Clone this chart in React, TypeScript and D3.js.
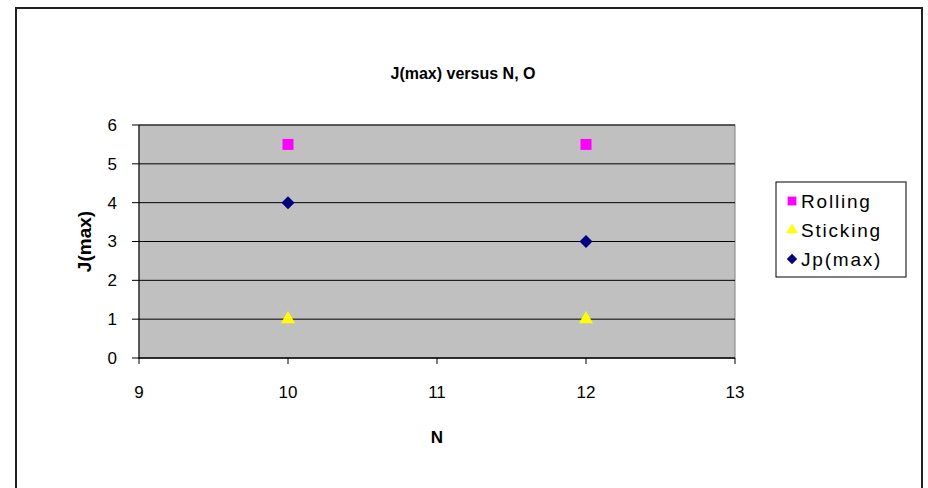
import React from 'react';
import * as d3 from 'd3';

// chart values
const nValues = [10, 12];
const rolling = [5.5, 5.5];
const sticking = [1, 1];
const jpMax = [4, 3];
const xTicks = [9, 10, 11, 12, 13];
const yTicks = [0, 1, 2, 3, 4, 5, 6];
const legendLabels = ['Rolling', 'Sticking', 'Jp(max)'];

const W = 928;
const H = 488;
const font = '"Liberation Sans", Arial, sans-serif';

// plot area
const left = 139, right = 735, top = 125, bottom = 358;

// diamond with equal width and height (excel style)
const diamondPath = (r: number) => {
  const p = d3.path();
  p.moveTo(0, -r); p.lineTo(r, 0); p.lineTo(0, r); p.lineTo(-r, 0); p.closePath();
  return p.toString();
};

export default function App() {
  const x = d3.scaleLinear().domain([9, 13]).range([left, right]);
  const y = d3.scaleLinear().domain([0, 6]).range([bottom, top]);

  const square = d3.symbol().type(d3.symbolSquare).size(121);
  const triangle = d3.symbol().type(d3.symbolTriangle).size(85);

  const series = [
    { name: legendLabels[0], values: rolling, path: square(), color: '#ff00ff' },
    { name: legendLabels[1], values: sticking, path: triangle(), color: '#ffff00' },
    { name: legendLabels[2], values: jpMax, path: diamondPath(6.5), color: '#000080' },
  ];

  const legendX = 776, legendY = 182;

  return (
    <svg width={W} height={H} style={{ position: 'absolute', left: 0, top: 0, background: '#fff' }}>
      {/* outer chart frame */}
      <rect x={16} y={8} width={906} height={500} fill="#fff" stroke="#222" strokeWidth={2} />

      <text x={463} y={73} dy="0.35em" textAnchor="middle" fontFamily={font} fontSize={16} fontWeight="bold">
        J(max) versus N, O
      </text>

      {/* plot area */}
      <rect x={left} y={top} width={right - left} height={bottom - top} fill="#c0c0c0" stroke="#808080" />

      {yTicks.map(t => (
        <g key={'y' + t}>
          <line x1={left} x2={right} y1={y(t)} y2={y(t)} stroke="#000" />
          <line x1={left - 7} x2={left} y1={y(t)} y2={y(t)} stroke="#000" />
          <text x={left - 22} y={y(t)} dy="0.35em" textAnchor="end" fontFamily={font} fontSize={17}>{t}</text>
        </g>
      ))}
      <line x1={left} x2={left} y1={top} y2={bottom + 1} stroke="#000" />
      <line x1={left} x2={right} y1={bottom} y2={bottom} stroke="#000" />
      {xTicks.map(t => (
        <g key={'x' + t}>
          <line x1={x(t)} x2={x(t)} y1={bottom} y2={bottom + 6} stroke="#000" />
          <text x={x(t)} y={392} dy="0.35em" textAnchor="middle" fontFamily={font} fontSize={17}>{t}</text>
        </g>
      ))}

      <text x={437} y={437} dy="0.35em" textAnchor="middle" fontFamily={font} fontSize={17} fontWeight="bold">N</text>
      <text transform={`translate(84,${(top + bottom) / 2}) rotate(-90)`} dy="0.35em" textAnchor="middle"
        fontFamily={font} fontSize={19} fontWeight="bold">J(max)</text>

      {series.map(s => s.values.map((v, i) => (
        <path key={s.name + i} d={s.path} fill={s.color} transform={`translate(${x(nValues[i])},${y(v)})`} />
      )))}

      {/* legend */}
      <rect x={legendX} y={legendY} width={130} height={95} fill="#fff" stroke="#000" />
      {series.map((s, i) => (
        <g key={'lg' + s.name} transform={`translate(${legendX + 16},${legendY + 19 + i * 29})`}>
          <path d={s.path} fill={s.color} transform="scale(0.8)" />
          <text x={9} dy="0.35em" fontFamily={font} fontSize={19} letterSpacing={1.8}>{s.name}</text>
        </g>
      ))}
    </svg>
  );
}
